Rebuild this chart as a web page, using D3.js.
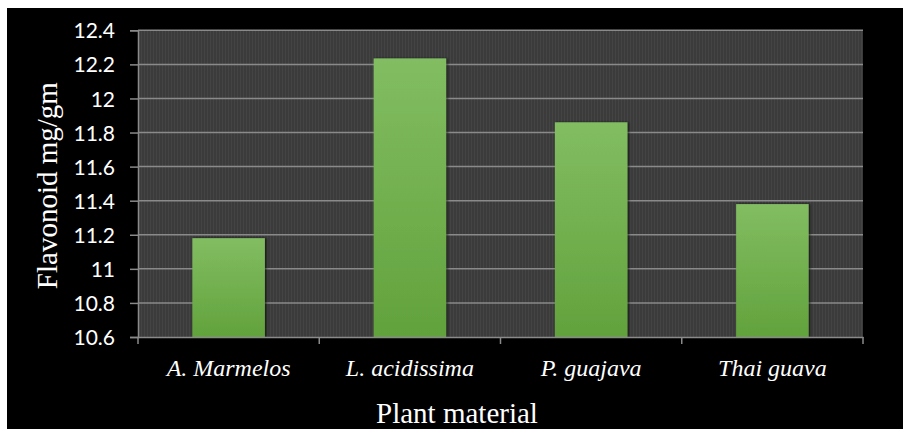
<!DOCTYPE html>
<html>
<head>
<meta charset="utf-8">
<script src="https://cdn.jsdelivr.net/npm/d3@7"></script>
<style>
  html, body { margin: 0; padding: 0; background: #ffffff; }
  svg { display: block; }
  .serif { font-family: "Liberation Serif", "Times New Roman", Times, "DejaVu Serif", serif; }
</style>
</head>
<body>
<script>
const categories = ["A. Marmelos", "L. acidissima", "P. guajava", "Thai guava"];
const values = [11.18, 12.235, 11.86, 11.38];
const yTicks = [10.6, 10.8, 11, 11.2, 11.4, 11.6, 11.8, 12, 12.2, 12.4];
const yLabel = "Flavonoid mg/gm";
const xLabel = "Plant material";

const W = 903, H = 429;
const plot = { left: 138, right: 863, top: 30.3, bottom: 337 };

const svg = d3.select("body").append("svg").attr("width", W).attr("height", H);

const defs = svg.append("defs");
const grad = defs.append("linearGradient").attr("id", "barGrad")
  .attr("x1", 0).attr("y1", 0).attr("x2", 0).attr("y2", 1);
grad.append("stop").attr("offset", "0%").attr("stop-color", "#82bd62");
grad.append("stop").attr("offset", "100%").attr("stop-color", "#62a23c");

const pat = defs.append("pattern").attr("id", "tex").attr("patternUnits", "userSpaceOnUse")
  .attr("width", 3).attr("height", 3);
pat.append("rect").attr("width", 3).attr("height", 3).attr("fill", "#3b3b3b");
pat.append("rect").attr("x", 0).attr("y", 0).attr("width", 1).attr("height", 3).attr("fill", "#444444");

const shadow = defs.append("filter").attr("id", "shadow").attr("x", "-10%").attr("y", "-10%").attr("width", "130%").attr("height", "120%");
shadow.append("feDropShadow").attr("dx", 1.5).attr("dy", 0).attr("stdDeviation", 1.2).attr("flood-color", "#000").attr("flood-opacity", 0.6);

svg.append("rect").attr("x", 7).attr("y", 8).attr("width", W - 7).attr("height", H - 8).attr("fill", "#000000");

const x = d3.scaleBand().domain(categories).range([plot.left, plot.right]).paddingInner(0.6).paddingOuter(0.3);
const xb = d3.scaleBand().domain(categories).range([plot.left, plot.right]).padding(0);
const y = d3.scaleLinear().domain([10.6, 12.4]).range([plot.bottom, plot.top]);

svg.append("rect").attr("x", plot.left).attr("y", plot.top)
  .attr("width", plot.right - plot.left).attr("height", plot.bottom - plot.top)
  .attr("fill", "url(#tex)");

svg.append("g").selectAll("line").data(yTicks.filter(t => t > 10.6)).join("line")
  .attr("x1", plot.left).attr("x2", plot.right)
  .attr("y1", d => y(d)).attr("y2", d => y(d))
  .attr("stroke", "#8a8a8a").attr("stroke-width", 1.5);

svg.append("g").selectAll("rect").data(categories).join("rect")
  .attr("x", d => x(d)).attr("width", x.bandwidth())
  .attr("y", (d, i) => y(values[i]))
  .attr("height", (d, i) => plot.bottom - y(values[i]))
  .attr("fill", "url(#barGrad)")
  .attr("filter", "url(#shadow)");

const yAxis = d3.axisLeft(y).tickValues(yTicks).tickSize(8).tickPadding(15)
  .tickFormat(d => d3.format("~g")(d));
const gy = svg.append("g").attr("transform", `translate(${plot.left},0)`).call(yAxis);
gy.select(".domain").attr("stroke", "#8a8a8a").attr("stroke-width", 1.5);
gy.selectAll(".tick line").attr("stroke", "#8a8a8a").attr("stroke-width", 1.5);
gy.selectAll(".tick text").attr("fill", "#ffffff")
  .attr("font-family", "Lato, 'Open Sans', sans-serif").attr("font-size", 21)
  .attr("dy", "0.36em");

const xAxis = d3.axisBottom(xb).tickSize(0).tickFormat("");
const gx = svg.append("g").attr("transform", `translate(0,${plot.bottom})`).call(xAxis);
gx.select(".domain").attr("stroke", "#8a8a8a").attr("stroke-width", 1.5);
const boundaries = categories.map(c => xb(c)).concat([plot.right]);
gx.append("g").selectAll("line").data(boundaries).join("line")
  .attr("x1", d => d).attr("x2", d => d).attr("y1", 0).attr("y2", 7)
  .attr("stroke", "#8a8a8a").attr("stroke-width", 1.5);

svg.append("g").selectAll("text").data(categories).join("text")
  .attr("class", "serif")
  .attr("x", d => x(d) + x.bandwidth() / 2)
  .attr("y", 376)
  .attr("text-anchor", "middle")
  .attr("fill", "#ffffff")
  .attr("font-style", "italic")
  .attr("font-size", 24)
  .text(d => d);

svg.append("text")
  .attr("class", "serif")
  .attr("x", 457).attr("y", 423)
  .attr("text-anchor", "middle").attr("fill", "#ffffff")
  .attr("font-size", 29)
  .text(xLabel);

svg.append("text")
  .attr("class", "serif")
  .attr("transform", `translate(57,${(plot.top + plot.bottom) / 2 + 2}) rotate(-90)`)
  .attr("text-anchor", "middle").attr("fill", "#ffffff")
  .attr("font-size", 29)
  .text(yLabel);
</script>
</body>
</html>
